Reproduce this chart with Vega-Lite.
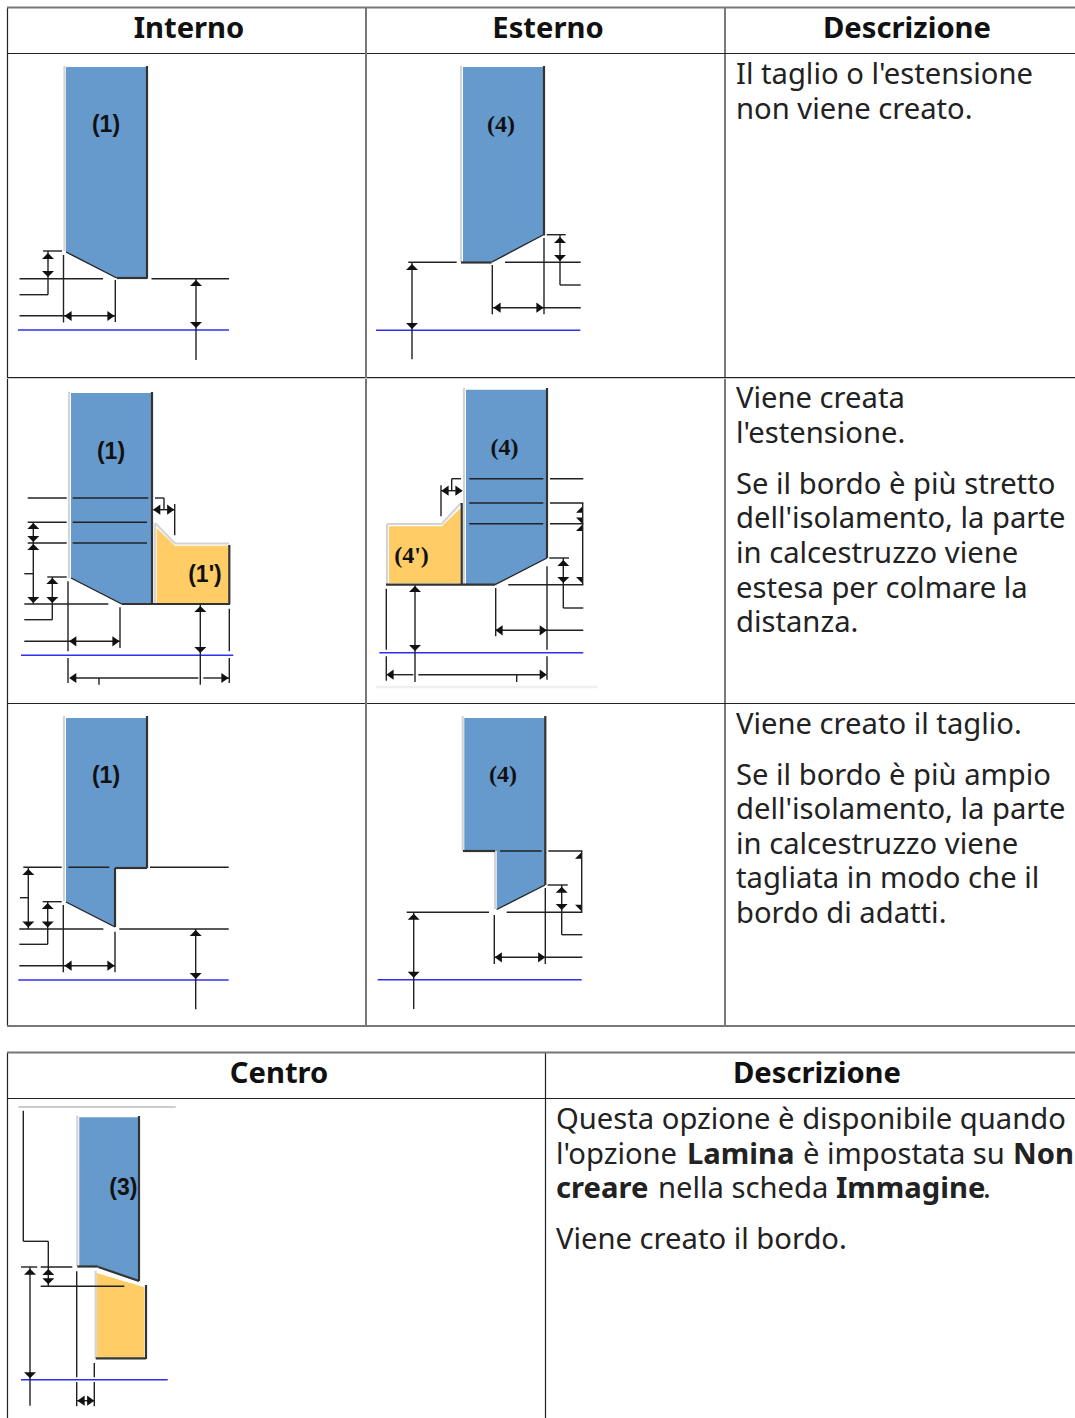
{"$schema":"https://vega.github.io/schema/vega-lite/v6.json","width":1075,"height":1418,"padding":0,"autosize":{"type":"none"},"background":"white","config":{"view":{"stroke":null}},
"datasets":{
"areas":[
{"s":"a1","k":"blue","x":66,"y":67,"y2":252},{"s":"a1","k":"blue","x":116.7,"y":67,"y2":278},{"s":"a1","k":"blue","x":147,"y":67,"y2":278},
{"s":"a2","k":"blue","x":463,"y":67,"y2":262},{"s":"a2","k":"blue","x":491.7,"y":67,"y2":262},{"s":"a2","k":"blue","x":543,"y":67,"y2":235},
{"s":"a3","k":"blue","x":71,"y":393,"y2":578},{"s":"a3","k":"blue","x":121.7,"y":393,"y2":604},{"s":"a3","k":"blue","x":152,"y":393,"y2":604},
{"s":"a3o","k":"orange","x":156.7,"y":528,"y2":603},{"s":"a3o","k":"orange","x":175,"y":545.7,"y2":603},{"s":"a3o","k":"orange","x":228.5,"y":545.7,"y2":603},
{"s":"a4","k":"blue","x":466,"y":389.7,"y2":584},{"s":"a4","k":"blue","x":495,"y":389.7,"y2":584},{"s":"a4","k":"blue","x":547,"y":389.7,"y2":558},
{"s":"a4o","k":"orange","x":389,"y":526.3,"y2":583},{"s":"a4o","k":"orange","x":441.7,"y":526.3,"y2":583},{"s":"a4o","k":"orange","x":460.7,"y":508,"y2":583},
{"s":"a5","k":"blue","x":66,"y":718,"y2":902},{"s":"a5","k":"blue","x":115,"y":718,"y2":927},
{"s":"a5b","k":"blue","x":114,"y":718,"y2":867},{"s":"a5b","k":"blue","x":147,"y":718,"y2":867},
{"s":"a6","k":"blue","x":464.3,"y":718,"y2":851},{"s":"a6","k":"blue","x":498,"y":718,"y2":851},
{"s":"a6b","k":"blue","x":496.7,"y":718,"y2":909.3},{"s":"a6b","k":"blue","x":545,"y":718,"y2":885},
{"s":"a7","k":"blue","x":79.3,"y":1117.3,"y2":1266.3},{"s":"a7","k":"blue","x":98.3,"y":1117.3,"y2":1266.3},{"s":"a7","k":"blue","x":139,"y":1117.3,"y2":1280.7},
{"s":"a7o","k":"orange","x":96.7,"y":1273,"y2":1357.3},{"s":"a7o","k":"orange","x":144.3,"y":1287.3,"y2":1357.3}
],
"segs":[
{"k":"col","x":7,"y":7.5,"x2":1075,"y2":7.5},{"k":"table","x":7,"y":53.5,"x2":1075,"y2":53.5},{"k":"table","x":7,"y":377.5,"x2":1075,"y2":377.5},{"k":"pale","x":7,"y":378.5,"x2":1075,"y2":378.5},{"k":"table","x":7,"y":703.5,"x2":1075,"y2":703.5},{"k":"col","x":7,"y":1026,"x2":1075,"y2":1026},
{"k":"table","x":7.5,"y":8,"x2":7.5,"y2":1026},{"k":"col","x":366,"y":8,"x2":366,"y2":1026},{"k":"table","x":725,"y":8,"x2":725,"y2":1026},
{"k":"col","x":7,"y":1052.5,"x2":1075,"y2":1052.5},{"k":"table","x":7,"y":1098.5,"x2":1075,"y2":1098.5},{"k":"table","x":7.5,"y":1052,"x2":7.5,"y2":1418},{"k":"table","x":545.5,"y":1052,"x2":545.5,"y2":1418},

{"k":"gray","x":64.5,"y":66,"x2":64.5,"y2":251},{"k":"dark","x":147,"y":66,"x2":147,"y2":278.7},{"k":"dark","x":117,"y":278,"x2":147,"y2":278},{"k":"thin","x":66,"y":252,"x2":116.7,"y2":278},
{"k":"thin","x":43,"y":251,"x2":62,"y2":251},{"k":"thin","x":19.5,"y":278.7,"x2":103,"y2":278.7},{"k":"thin","x":151.5,"y":278.7,"x2":229,"y2":278.7},{"k":"thin","x":19.5,"y":294.7,"x2":48,"y2":294.7},{"k":"thin","x":48,"y":251,"x2":48,"y2":294.7},{"k":"thin","x":19.5,"y":315.7,"x2":115,"y2":315.7},{"k":"thin","x":63.5,"y":255,"x2":63.5,"y2":322.5},{"k":"thin","x":115.3,"y":280,"x2":115.3,"y2":322},{"k":"thin","x":196,"y":279,"x2":196,"y2":360},{"k":"blue","x":18,"y":330,"x2":229,"y2":330},

{"k":"gray","x":461,"y":66,"x2":461,"y2":262},{"k":"dark","x":544,"y":66,"x2":544,"y2":235.5},{"k":"dark","x":461,"y":262.5,"x2":491.7,"y2":262.5},{"k":"thin","x":492,"y":262,"x2":543,"y2":235},
{"k":"thin","x":408.3,"y":262.3,"x2":456.7,"y2":262.3},{"k":"thin","x":505,"y":262.3,"x2":580.7,"y2":262.3},{"k":"thin","x":546.7,"y":234.7,"x2":565.7,"y2":234.7},{"k":"thin","x":560,"y":285,"x2":580.7,"y2":285},{"k":"thin","x":560,"y":234.7,"x2":560,"y2":285},{"k":"thin","x":492.3,"y":307.7,"x2":580.7,"y2":307.7},{"k":"thin","x":492.3,"y":265,"x2":492.3,"y2":314.3},{"k":"thin","x":544,"y":238,"x2":544,"y2":314.3},{"k":"thin","x":412,"y":262.3,"x2":412,"y2":359.3},{"k":"blue","x":376,"y":330.3,"x2":580.3,"y2":330.3},

{"k":"gray","x":69,"y":391.7,"x2":69,"y2":578},{"k":"dark","x":152,"y":392,"x2":152,"y2":604},{"k":"gray","x":155,"y":523,"x2":175,"y2":543.5},{"k":"gray","x":175,"y":543.5,"x2":229,"y2":543.5},{"k":"gray","x":155,"y":523,"x2":155,"y2":604},{"k":"dark","x":229.3,"y":545,"x2":229.3,"y2":604},{"k":"dark","x":121.7,"y":604,"x2":230,"y2":604},{"k":"thin","x":71,"y":578,"x2":121.7,"y2":604},
{"k":"thin","x":72.7,"y":498,"x2":148.3,"y2":498},{"k":"thin","x":72.7,"y":522.3,"x2":147,"y2":522.3},{"k":"thin","x":72.7,"y":543,"x2":147,"y2":543},
{"k":"thin","x":27.7,"y":498,"x2":66.7,"y2":498},{"k":"thin","x":27.7,"y":522.3,"x2":66.7,"y2":522.3},{"k":"thin","x":27.7,"y":543,"x2":66.7,"y2":543},
{"k":"thin","x":33.3,"y":522.3,"x2":33.3,"y2":604},{"k":"thin","x":24.3,"y":573.7,"x2":33.3,"y2":573.7},{"k":"thin","x":24.3,"y":604,"x2":108.3,"y2":604},
{"k":"thin","x":47.3,"y":577,"x2":66.7,"y2":577},{"k":"thin","x":52.3,"y":577,"x2":52.3,"y2":619.7},{"k":"thin","x":24.3,"y":619.7,"x2":52.3,"y2":619.7},
{"k":"thin","x":24.3,"y":641.3,"x2":120,"y2":641.3},{"k":"thin","x":68,"y":581.3,"x2":68,"y2":651.3},{"k":"thin","x":120,"y":607.3,"x2":120,"y2":648},{"k":"blue","x":21,"y":655.3,"x2":233.3,"y2":655.3},
{"k":"thin","x":68,"y":658,"x2":68,"y2":683},{"k":"thin","x":71.7,"y":678,"x2":198.3,"y2":678},{"k":"thin","x":203.3,"y":678,"x2":229,"y2":678},{"k":"thin","x":99,"y":678,"x2":99,"y2":684.7},{"k":"thin","x":200.3,"y":605,"x2":200.3,"y2":684.7},{"k":"thin","x":229.3,"y":608.7,"x2":229.3,"y2":651.3},{"k":"thin","x":229.3,"y":658,"x2":229.3,"y2":683},
{"k":"thin","x":155,"y":498,"x2":164,"y2":498},{"k":"thin","x":164,"y":498,"x2":164,"y2":509.7},{"k":"thin","x":174.7,"y":504,"x2":174.7,"y2":535.3},{"k":"thin","x":153.3,"y":509.7,"x2":174.7,"y2":509.7},

{"k":"gray","x":464,"y":388,"x2":464,"y2":584},{"k":"dark","x":461.7,"y":503,"x2":461.7,"y2":584.7},{"k":"dark","x":547,"y":388,"x2":547,"y2":558},{"k":"gray","x":387,"y":524,"x2":441.7,"y2":524},{"k":"gray","x":441.7,"y":524,"x2":461,"y2":503},{"k":"gray","x":387,"y":524,"x2":387,"y2":584},{"k":"dark","x":386,"y":584.7,"x2":495,"y2":584.7},{"k":"thin","x":495,"y":584.7,"x2":547,"y2":558},
{"k":"thin","x":469.3,"y":478.7,"x2":543.3,"y2":478.7},{"k":"thin","x":469.3,"y":503,"x2":543.3,"y2":503},{"k":"thin","x":469.3,"y":523.7,"x2":543.3,"y2":523.7},
{"k":"thin","x":550,"y":478.7,"x2":583.3,"y2":478.7},{"k":"thin","x":550,"y":503,"x2":583.3,"y2":503},{"k":"thin","x":550,"y":523.7,"x2":583.3,"y2":523.7},{"k":"thin","x":549.3,"y":558,"x2":569,"y2":558},{"k":"thin","x":508.3,"y":584.7,"x2":583.3,"y2":584.7},{"k":"thin","x":582.7,"y":503,"x2":582.7,"y2":584.7},
{"k":"thin","x":563.3,"y":558,"x2":563.3,"y2":608},{"k":"thin","x":563.3,"y":608,"x2":583.3,"y2":608},{"k":"thin","x":495.7,"y":630.3,"x2":583.3,"y2":630.3},{"k":"thin","x":495.7,"y":588,"x2":495.7,"y2":636.3},{"k":"thin","x":547,"y":566.3,"x2":547,"y2":649.7},{"k":"thin","x":547,"y":656.3,"x2":547,"y2":679.7},{"k":"blue","x":379.3,"y":652.7,"x2":583.3,"y2":652.7},
{"k":"thin","x":386.3,"y":588.7,"x2":386.3,"y2":649.7},{"k":"thin","x":386.3,"y":656.3,"x2":386.3,"y2":680.7},{"k":"thin","x":415,"y":585,"x2":415,"y2":682},{"k":"thin","x":390,"y":674.7,"x2":413.3,"y2":674.7},{"k":"thin","x":418.3,"y":674.7,"x2":543,"y2":674.7},{"k":"thin","x":516.7,"y":674.7,"x2":516.7,"y2":682},{"k":"wide","x":376,"y":687,"x2":597.7,"y2":687},
{"k":"thin","x":451.7,"y":478.7,"x2":461,"y2":478.7},{"k":"thin","x":451.7,"y":478.7,"x2":451.7,"y2":490.7},{"k":"thin","x":441,"y":490.7,"x2":461.7,"y2":490.7},{"k":"thin","x":441,"y":485.3,"x2":441,"y2":516.3},

{"k":"gray","x":64,"y":716,"x2":64,"y2":901},{"k":"dark","x":147,"y":716,"x2":147,"y2":868},{"k":"dark","x":147,"y":868,"x2":115,"y2":868},{"k":"dark","x":115,"y":868,"x2":115,"y2":927},{"k":"thin","x":66,"y":902,"x2":115,"y2":927},
{"k":"thin","x":23.3,"y":867.3,"x2":61.7,"y2":867.3},{"k":"thin","x":68.3,"y":867.3,"x2":109.3,"y2":867.3},{"k":"thin","x":150,"y":867.3,"x2":228.7,"y2":867.3},{"k":"thin","x":42.7,"y":901.7,"x2":61.7,"y2":901.7},{"k":"thin","x":19.3,"y":929,"x2":103.3,"y2":929},{"k":"thin","x":119.3,"y":929,"x2":228.7,"y2":929},
{"k":"thin","x":28.3,"y":867.3,"x2":28.3,"y2":929},{"k":"thin","x":20,"y":897.7,"x2":28.3,"y2":897.7},{"k":"thin","x":47.7,"y":901.7,"x2":47.7,"y2":944.3},{"k":"thin","x":19.3,"y":944.3,"x2":47.7,"y2":944.3},{"k":"thin","x":19.3,"y":965.7,"x2":115,"y2":965.7},{"k":"thin","x":63.3,"y":905,"x2":63.3,"y2":972.3},{"k":"thin","x":115,"y":931.7,"x2":115,"y2":972.3},{"k":"thin","x":195.7,"y":929,"x2":195.7,"y2":1009.3},{"k":"blue","x":18.3,"y":980,"x2":228.7,"y2":980},

{"k":"gray","x":462.7,"y":716,"x2":462.7,"y2":851},{"k":"gray","x":495,"y":851,"x2":495,"y2":909},{"k":"dark","x":545.3,"y":716,"x2":545.3,"y2":885},{"k":"dark","x":463,"y":851,"x2":495,"y2":851},{"k":"thin","x":496.7,"y":909.5,"x2":545,"y2":885},
{"k":"thin","x":500,"y":851,"x2":541.7,"y2":851},{"k":"thin","x":548.3,"y":851,"x2":582.3,"y2":851},{"k":"thin","x":581.7,"y":851,"x2":581.7,"y2":912.3},{"k":"thin","x":506.7,"y":912.3,"x2":582.3,"y2":912.3},{"k":"thin","x":406.7,"y":912.3,"x2":489,"y2":912.3},{"k":"thin","x":547.7,"y":885,"x2":567.7,"y2":885},{"k":"thin","x":561.7,"y":885,"x2":561.7,"y2":934.7},{"k":"thin","x":561.7,"y":934.7,"x2":582.3,"y2":934.7},{"k":"thin","x":494.3,"y":957.3,"x2":582.3,"y2":957.3},{"k":"thin","x":494.3,"y":915,"x2":494.3,"y2":964},{"k":"thin","x":545.3,"y":888,"x2":545.3,"y2":964},{"k":"thin","x":413.7,"y":912.3,"x2":413.7,"y2":1009},{"k":"blue","x":377.7,"y":979.7,"x2":581.7,"y2":979.7},

{"k":"gray","x":77.3,"y":1115.7,"x2":77.3,"y2":1266},{"k":"dark","x":139,"y":1116,"x2":139,"y2":1281},{"k":"dark","x":77.3,"y":1266.5,"x2":98.3,"y2":1266.5},{"k":"dark","x":98.3,"y":1267,"x2":139,"y2":1281},{"k":"gray","x":95.7,"y":1270.7,"x2":95.7,"y2":1358},{"k":"dark","x":146,"y":1285,"x2":146,"y2":1359},{"k":"dark","x":95.7,"y":1358.3,"x2":146,"y2":1358.3},{"k":"top","x":18.3,"y":1107,"x2":175.7,"y2":1107},
{"k":"thin","x":23.3,"y":1110.7,"x2":23.3,"y2":1241.3},{"k":"thin","x":23.3,"y":1241.3,"x2":48.3,"y2":1241.3},{"k":"thin","x":48.3,"y":1241.3,"x2":48.3,"y2":1286.3},{"k":"thin","x":21,"y":1267,"x2":37.3,"y2":1267},{"k":"thin","x":40.7,"y":1267,"x2":72.3,"y2":1267},{"k":"thin","x":40.7,"y":1286.3,"x2":124.3,"y2":1286.3},{"k":"thin","x":30,"y":1267,"x2":30,"y2":1405.7},{"k":"blue","x":21,"y":1379.7,"x2":167.7,"y2":1379.7},{"k":"thin","x":76.7,"y":1271.3,"x2":76.7,"y2":1377.3},{"k":"thin","x":76.7,"y":1382,"x2":76.7,"y2":1406.3},{"k":"thin","x":94.3,"y":1363,"x2":94.3,"y2":1377.3},{"k":"thin","x":94.3,"y":1382,"x2":94.3,"y2":1406.3},{"k":"thin","x":76.7,"y":1400.7,"x2":94.3,"y2":1400.7}
],
"arrows":[
{"x":48,"y":256,"d":"u"},{"x":48,"y":274,"d":"d"},{"x":68,"y":316,"d":"l"},{"x":111,"y":316,"d":"r"},{"x":196,"y":283,"d":"u"},{"x":196,"y":325,"d":"d"},
{"x":560,"y":240,"d":"u"},{"x":560,"y":258,"d":"d"},{"x":497,"y":307.7,"d":"l"},{"x":540,"y":307.7,"d":"r"},{"x":412,"y":267,"d":"u"},{"x":412,"y":326,"d":"d"},
{"x":33.3,"y":526,"d":"u"},{"x":33.3,"y":539,"d":"d"},{"x":33.3,"y":547,"d":"u"},{"x":33.3,"y":600,"d":"d"},{"x":52.3,"y":581,"d":"u"},{"x":52.3,"y":600,"d":"d"},{"x":72.7,"y":641.3,"d":"l"},{"x":116,"y":641.3,"d":"r"},{"x":200.3,"y":609,"d":"u"},{"x":200.3,"y":650,"d":"d"},{"x":156.7,"y":509.7,"d":"l"},{"x":170.7,"y":509.7,"d":"r"},{"x":72.7,"y":678,"d":"l"},{"x":225,"y":678,"d":"r"},
{"x":563.3,"y":563,"d":"u"},{"x":563.3,"y":580,"d":"d"},{"x":499,"y":630.3,"d":"l"},{"x":543.3,"y":630.3,"d":"r"},{"x":415,"y":589,"d":"u"},{"x":415,"y":648,"d":"d"},{"x":390,"y":674.7,"d":"l"},{"x":543.3,"y":674.7,"d":"r"},{"x":445,"y":490.7,"d":"l"},{"x":459,"y":490.7,"d":"r"},
{"x":582,"y":509.7,"d":"hu"},{"x":582,"y":520.5,"d":"hd"},{"x":582,"y":528,"d":"hu"},{"x":582,"y":580,"d":"hd"},
{"x":28.3,"y":872,"d":"u"},{"x":28.3,"y":924.5,"d":"d"},{"x":47.7,"y":906,"d":"u"},{"x":47.7,"y":924.5,"d":"d"},{"x":68,"y":965.7,"d":"l"},{"x":111,"y":965.7,"d":"r"},{"x":195.7,"y":933,"d":"u"},{"x":195.7,"y":976,"d":"d"},
{"x":581,"y":855.7,"d":"hu"},{"x":581,"y":907.7,"d":"hd"},{"x":561.7,"y":889.7,"d":"u"},{"x":561.7,"y":907,"d":"d"},{"x":498.3,"y":957.3,"d":"l"},{"x":541.7,"y":957.3,"d":"r"},{"x":413.7,"y":916.7,"d":"u"},{"x":413.7,"y":974.7,"d":"d"},
{"x":30,"y":1271.7,"d":"u"},{"x":30,"y":1375.3,"d":"d"},{"x":48.3,"y":1272,"d":"u"},{"x":48.3,"y":1281.3,"d":"d"},{"x":81,"y":1400.7,"d":"l"},{"x":90.7,"y":1400.7,"d":"r"}
],
"head":[{"x":189,"y":38,"t":"Interno"},{"x":548,"y":38,"t":"Esterno"},{"x":907,"y":38,"t":"Descrizione"},{"x":279,"y":1083,"t":"Centro"},{"x":817,"y":1083,"t":"Descrizione"}],
"body":[
{"x":736,"y":84,"t":"Il taglio o l'estensione"},{"x":736,"y":119,"t":"non viene creato."},
{"x":736,"y":408,"t":"Viene creata"},{"x":736,"y":443,"t":"l'estensione."},{"x":736,"y":494,"t":"Se il bordo è più stretto"},{"x":736,"y":528,"t":"dell'isolamento, la parte"},{"x":736,"y":563,"t":"in calcestruzzo viene"},{"x":736,"y":598,"t":"estesa per colmare la"},{"x":736,"y":632,"t":"distanza."},
{"x":736,"y":734,"t":"Viene creato il taglio."},{"x":736,"y":785,"t":"Se il bordo è più ampio"},{"x":736,"y":819,"t":"dell'isolamento, la parte"},{"x":736,"y":854,"t":"in calcestruzzo viene"},{"x":736,"y":888,"t":"tagliata in modo che il"},{"x":736,"y":923,"t":"bordo di adatti."},
{"x":556,"y":1129,"t":"Questa opzione è disponibile quando"},{"x":556,"y":1164,"t":"l'opzione"},{"x":803,"y":1164,"t":"è impostata su"},{"x":658,"y":1198,"t":"nella scheda"},{"x":983,"y":1198,"t":"."},{"x":556,"y":1249,"t":"Viene creato il bordo."}
],
"bold":[{"x":687,"y":1164,"t":"Lamina"},{"x":1013,"y":1164,"t":"Non"},{"x":556,"y":1198,"t":"creare"},{"x":836,"y":1198,"t":"Immagine"}],
"sans":[{"x":106,"y":125,"t":"(1)"},{"x":111,"y":452,"t":"(1)"},{"x":205,"y":575,"t":"(1')"},{"x":106,"y":776,"t":"(1)"},{"x":123.3,"y":1187.5,"t":"(3)"}],
"serif":[{"x":501,"y":125,"t":"(4)"},{"x":504.5,"y":447.5,"t":"(4)"},{"x":411.5,"y":555.5,"t":"(4')"},{"x":503,"y":775,"t":"(4)"}]
},
"resolve":{"scale":{"x":"shared","y":"shared"}},
"encoding":{"x":{"field":"x","type":"quantitative","scale":{"domain":[0,1075],"nice":false,"zero":false},"axis":null},"y":{"field":"y","type":"quantitative","scale":{"domain":[0,1418],"nice":false,"zero":false,"reverse":true},"axis":null}},
"layer":[
{"data":{"name":"areas"},"transform":[{"filter":{"field":"k","equal":"blue"}}],"mark":{"type":"area","orient":"vertical","color":"#6699cc"},"encoding":{"y2":{"field":"y2"},"detail":{"field":"s"}}},
{"data":{"name":"areas"},"transform":[{"filter":{"field":"k","equal":"orange"}}],"mark":{"type":"area","orient":"vertical","color":"#ffcc66"},"encoding":{"y2":{"field":"y2"},"detail":{"field":"s"}}},
{"data":{"name":"segs"},"transform":[{"filter":{"field":"k","equal":"table"}}],"mark":{"type":"rule","color":"#222222","strokeWidth":1.2},"encoding":{"x2":{"field":"x2"},"y2":{"field":"y2"}}},
{"data":{"name":"segs"},"transform":[{"filter":{"field":"k","equal":"col"}}],"mark":{"type":"rule","color":"#777777","strokeWidth":2},"encoding":{"x2":{"field":"x2"},"y2":{"field":"y2"}}},
{"data":{"name":"segs"},"transform":[{"filter":{"field":"k","equal":"pale"}}],"mark":{"type":"rule","color":"#cccccc","strokeWidth":1},"encoding":{"x2":{"field":"x2"},"y2":{"field":"y2"}}},
{"data":{"name":"segs"},"transform":[{"filter":{"field":"k","equal":"wide"}}],"mark":{"type":"rule","color":"#efefef","strokeWidth":2.5},"encoding":{"x2":{"field":"x2"},"y2":{"field":"y2"}}},
{"data":{"name":"segs"},"transform":[{"filter":{"field":"k","equal":"top"}}],"mark":{"type":"rule","color":"#bbbbbb","strokeWidth":1.3},"encoding":{"x2":{"field":"x2"},"y2":{"field":"y2"}}},
{"data":{"name":"segs"},"transform":[{"filter":{"field":"k","equal":"gray"}}],"mark":{"type":"rule","color":"#d4d4d4","strokeWidth":2.2},"encoding":{"x2":{"field":"x2"},"y2":{"field":"y2"}}},
{"data":{"name":"segs"},"transform":[{"filter":{"field":"k","equal":"blue"}}],"mark":{"type":"rule","color":"#2f2ff0","strokeWidth":1.6},"encoding":{"x2":{"field":"x2"},"y2":{"field":"y2"}}},
{"data":{"name":"segs"},"transform":[{"filter":{"field":"k","equal":"thin"}}],"mark":{"type":"rule","color":"#222222","strokeWidth":1.4},"encoding":{"x2":{"field":"x2"},"y2":{"field":"y2"}}},
{"data":{"name":"segs"},"transform":[{"filter":{"field":"k","equal":"dark"}}],"mark":{"type":"rule","color":"#333333","strokeWidth":2.2},"encoding":{"x2":{"field":"x2"},"y2":{"field":"y2"}}},
{"data":{"name":"arrows"},"mark":{"type":"point","filled":true,"size":144,"opacity":1,"color":"#111111"},
"encoding":{"shape":{"field":"d","type":"nominal","scale":{"domain":["u","d","l","r","hu","hd"],"range":["M-1,0.5L0,-0.5L1,0.5Z","M-1,-0.5L0,0.5L1,-0.5Z","M-0.6,0L0.6,-0.85L0.6,0.85Z","M0.6,0L-0.6,-0.85L-0.6,0.85Z","M-1,0.5L0,-0.5L0,0.5Z","M-1,-0.5L0,0.5L0,-0.5Z"]},"legend":null}}},
{"data":{"name":"head"},"mark":{"type":"text","font":"Noto Sans","fontWeight":"bold","fontSize":29.2,"align":"center","baseline":"alphabetic","color":"#111111"},"encoding":{"text":{"field":"t"}}},
{"data":{"name":"body"},"mark":{"type":"text","font":"Noto Sans","fontSize":29.2,"align":"left","baseline":"alphabetic","color":"#222222"},"encoding":{"text":{"field":"t"}}},
{"data":{"name":"bold"},"mark":{"type":"text","font":"Noto Sans","fontWeight":"bold","fontSize":29.2,"align":"left","baseline":"alphabetic","color":"#222222"},"encoding":{"text":{"field":"t"}}},
{"data":{"name":"sans"},"mark":{"type":"text","font":"Liberation Sans","fontWeight":"bold","fontSize":23,"align":"center","baseline":"middle","color":"#111111"},"encoding":{"text":{"field":"t"}}},
{"data":{"name":"serif"},"mark":{"type":"text","font":"Liberation Serif","fontWeight":"bold","fontSize":24,"align":"center","baseline":"middle","color":"#111111"},"encoding":{"text":{"field":"t"}}}
]}
